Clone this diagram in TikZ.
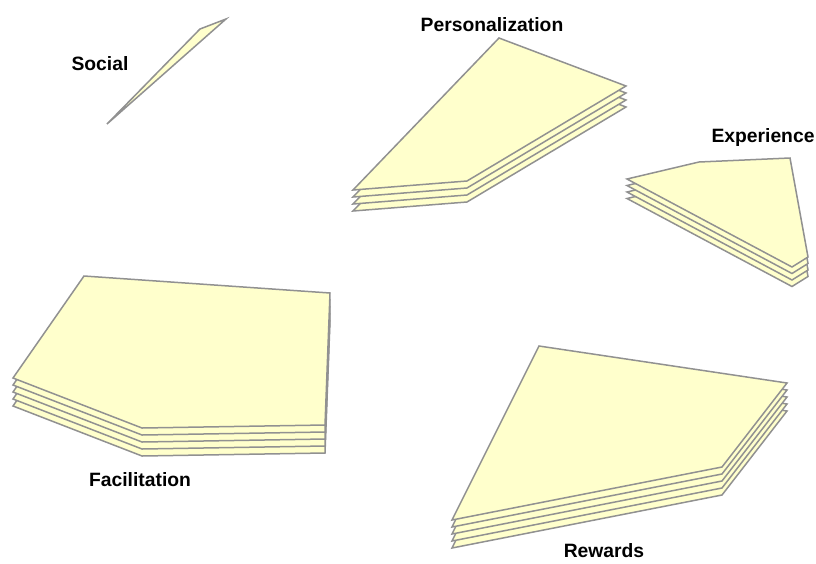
\documentclass[tikz,border=0pt]{standalone}
\usepackage{fontspec}
\setmainfont{Liberation Sans}
\usepackage{tikz}
\usetikzlibrary{positioning}
\usetikzlibrary{calc}

\definecolor{sheetfill}{RGB}{255,255,204}
\definecolor{sheetline}{RGB}{145,145,145}

\begin{document}
\begin{tikzpicture}[x=1pt, y=-1pt,
    sheet/.style={draw=sheetline, fill=sheetfill, line width=1.5pt},
    every node/.style={font=\bfseries\fontsize{19.3}{21}\selectfont, inner sep=0pt}]

      \useasboundingbox (0,0) rectangle (816,563);

      \def\gap{7} % Offset between two sheets of a stack

      % Social: one thin sheet
      \draw[sheet] (107,124) -- (200,29) -- (226,19) -- cycle;
      \node (social) at (100,64) {Social};

      % Personalization: four sheets
      \foreach \k in {3,...,0} {
        \draw[sheet, shift={(0,\k*\gap)}] (499,38) -- (626,86) -- (467,181) -- (353,190) -- cycle;
      }
      \node (personalization) at (492,25) {Personalization};

      % Experience: four sheets
      \foreach \k in {3,...,0} {
        \draw[sheet, shift={(0,\k*6.5)}] (627,179) -- (699,162) -- (790,158) -- (808,257) -- (792,267) -- cycle;
      }
      \node (experience) at (763,138) {Experience};

      % Facilitation: five sheets
      \foreach \k in {4,...,0} {
        \draw[sheet, shift={(0,\k*\gap)}] (84,276) -- (330,293) -- (325,425) -- (142,428) -- (13,378) -- cycle;
      }
      \node (facilitation) at (140,480) {Facilitation};

      % Rewards: five sheets
      \foreach \k in {4,...,0} {
        \draw[sheet, shift={(0,\k*\gap)}] (539,346) -- (787,383) -- (722,467) -- (452,520) -- cycle;
      }
      \node (rewards) at (604,551) {Rewards};
    \end{tikzpicture}
\end{document}
